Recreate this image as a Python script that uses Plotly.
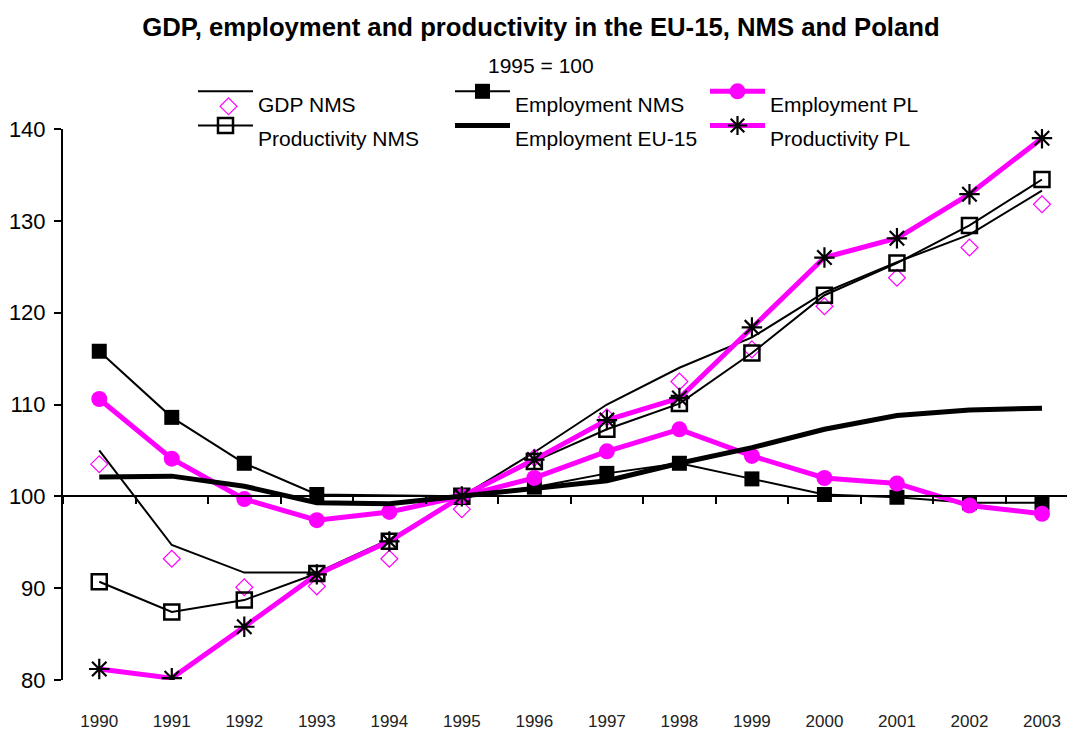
import plotly.graph_objects as go

years = [1990, 1991, 1992, 1993, 1994, 1995, 1996, 1997, 1998, 1999, 2000, 2001, 2002, 2003]

gdp_nms = [105.0, 94.7, 91.7, 91.7, 95.3, 100.0, 104.8, 110.0, 114.0, 117.3, 122.2, 125.5, 128.5, 133.3]
gdp_pl = [103.5, 93.2, 90.1, 90.2, 93.2, 98.6, 104.2, 108.6, 112.5, 116.0, 120.7, 123.8, 127.1, 131.8]
prod_nms = [90.7, 87.4, 88.7, 91.6, 95.1, 100.0, 103.8, 107.3, 110.1, 115.6, 121.9, 125.4, 129.5, 134.5]
emp_nms = [115.8, 108.6, 103.6, 100.2, None, 100.0, 101.0, 102.5, 103.6, 101.9, 100.2, 99.9, 99.3, 99.3]
emp_eu15 = [102.1, 102.2, 101.1, 99.3, 99.2, 100.0, 100.8, 101.7, 103.6, 105.3, 107.3, 108.8, 109.4, 109.6]
emp_pl = [110.6, 104.1, 99.7, 97.4, 98.3, 100.0, 102.0, 104.9, 107.3, 104.4, 102.0, 101.4, 99.0, 98.1]
prod_pl = [81.2, 80.2, 85.8, 91.5, 95.1, 100.0, 104.0, 108.3, 110.7, 118.4, 126.0, 128.1, 132.9, 139.0]

FONT = "Liberation Sans, Arial, sans-serif"
MAG = "#FF00FF"

W, H = 1067, 733


def lbl(t):
    return "&nbsp;<br><span style='font-size:21px'>" + t + "</span>"


fig = go.Figure()

fig.add_trace(go.Scatter(x=years, y=gdp_nms, mode="lines", name=lbl("GDP NMS"),
                         line=dict(color="black", width=2), legend="legend"))
fig.add_trace(go.Scatter(x=years, y=gdp_pl, mode="markers", name="",
                         marker=dict(symbol="diamond-open", size=13, color=MAG,
                                     line=dict(width=1.2, color=MAG)), legend="legend4"))
fig.add_trace(go.Scatter(x=years, y=prod_nms, mode="lines+markers", name=lbl("Productivity NMS"),
                         line=dict(color="black", width=2),
                         marker=dict(symbol="square-open", size=15, color="black",
                                     line=dict(width=2.5, color="black")), legend="legend"))
fig.add_trace(go.Scatter(x=years, y=emp_nms, mode="lines+markers", name=lbl("Employment NMS"),
                         connectgaps=True,
                         line=dict(color="black", width=2),
                         marker=dict(symbol="square", size=15, color="black"), legend="legend2"))
fig.add_trace(go.Scatter(x=years, y=emp_eu15, mode="lines", name=lbl("Employment EU-15"),
                         line=dict(color="black", width=5), legend="legend2", xaxis="x2"))
fig.add_trace(go.Scatter(x=years, y=emp_pl, mode="lines+markers", name=lbl("Employment PL"),
                         line=dict(color=MAG, width=5),
                         marker=dict(symbol="circle", size=16, color=MAG), legend="legend3"))
fig.add_trace(go.Scatter(x=years, y=prod_pl, mode="lines+markers", name=lbl("Productivity PL"),
                         line=dict(color=MAG, width=5),
                         marker=dict(symbol="asterisk-open", size=17, color="black",
                                     line=dict(width=2.2, color="black")), legend="legend3"))

xr = [1989.5, 2003.345]

leg_common = dict(xref="container", yref="container", xanchor="left", yanchor="top",
                  font=dict(size=12, family=FONT, color="black"),
                  bgcolor="rgba(0,0,0,0)", valign="top", itemwidth=55,
                  tracegroupgap=0, itemclick=False)

fig.update_layout(
    width=W, height=H,
    margin=dict(l=63, r=0, t=129, b=53, autoexpand=False),
    paper_bgcolor="white", plot_bgcolor="white",
    showlegend=True,
    title=dict(text="<b>GDP, employment and productivity in the EU-15, NMS and Poland</b>",
               x=541 / W, xanchor="center", xref="container",
               y=1 - 27 / H, yanchor="middle", yref="container",
               font=dict(size=25.7, family=FONT, color="black")),
    xaxis=dict(range=xr, tickmode="array", tickvals=years, ticktext=[str(y) for y in years],
               showline=False, showgrid=False, zeroline=False,
               ticks="outside", ticklen=26, tickcolor="rgba(0,0,0,0)",
               ticklabeloverflow="allow",
               tickfont=dict(size=17, family=FONT, color="#222")),
    xaxis2=dict(range=xr, overlaying="x", anchor="free", position=1 / 3,
                tick0=1989.5, dtick=1, showticklabels=False, showgrid=False, zeroline=False,
                showline=True, linecolor="black", linewidth=2,
                ticks="outside", ticklen=7, tickwidth=2, tickcolor="black"),
    yaxis=dict(range=[80, 140], dtick=10, showgrid=False, zeroline=False,
               showline=True, linecolor="black", linewidth=2,
               ticks="outside", ticklen=7, tickwidth=2, tickcolor="black",
               ticklabelstandoff=4,
               tickfont=dict(size=22, family=FONT, color="black")),
    legend=dict(x=193 / W, y=1 - 77 / H, **leg_common),
    legend2=dict(x=450 / W, y=1 - 77 / H, **leg_common),
    legend3=dict(x=705 / W, y=1 - 77 / H, **leg_common),
    legend4=dict(x=196 / W, y=1 - 92 / H, **leg_common),
    annotations=[dict(text="1995 = 100", xref="paper", yref="paper", showarrow=False,
                      x=(541 - 63) / 1004, y=1 + (129 - 66) / 551, xanchor="center", yanchor="middle",
                      font=dict(size=21, family=FONT, color="black"))],
)

fig.write_html("out.html", config={"displayModeBar": False},
               post_script="document.body.style.margin='0';document.body.style.overflow='hidden';")
